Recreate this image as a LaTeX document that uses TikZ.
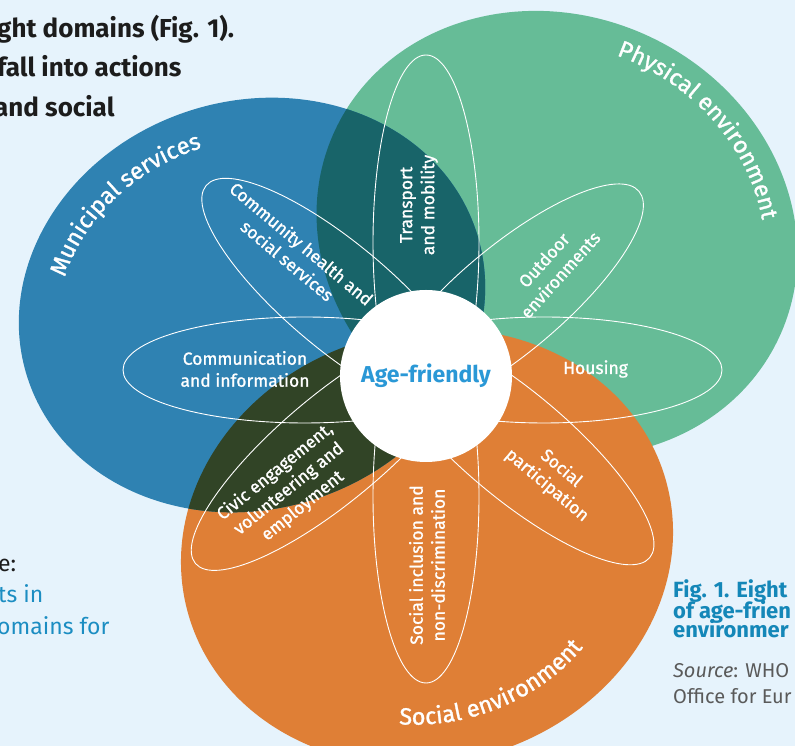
\documentclass[tikz,border=0pt]{standalone}
\usepackage{fontspec}
\setmainfont{Fira Sans}
\newfontfamily\labelfont{Fira Sans}[FakeBold=1.2]
\usetikzlibrary{decorations.text}
\definecolor{pagebg}{HTML}{E6F3FC}
\definecolor{muniblue}{HTML}{2F82B2}
\definecolor{physgreen}{HTML}{66BC97}
\definecolor{socorange}{HTML}{DF7F36}
\definecolor{darkteal}{HTML}{186469}
\definecolor{darkolive}{HTML}{314426}
\definecolor{agecyan}{HTML}{2A98D6}
\definecolor{capblue}{HTML}{1487B8}
\definecolor{linkblue}{HTML}{1B8DC2}
\definecolor{srcgray}{HTML}{5A5A5A}
\definecolor{inktext}{HTML}{1C1C1C}
\begin{document}
\begin{tikzpicture}[x=1pt,y=1pt,line join=round,
  muni/.style={rotate around={18:(252,441)}},
  phys/.style={rotate around={-25:(557,512)}},
  soc/.style={rotate around={15:(427,199)}},
  petal/.style={draw=white,line width=0.9pt},
  domaintext/.style={text=white,align=center,inner sep=0pt,font=\labelfont\fontsize{17.5}{22}\selectfont},
  intro/.style={anchor=base west,inner sep=0pt,text=inktext,font=\fontsize{26}{26}\selectfont\bfseries},
  aside/.style={anchor=base west,inner sep=0pt,font=\fontsize{23}{23}\selectfont},
  captext/.style={anchor=base west,inner sep=0pt,text=capblue,font=\fontsize{22}{22}\selectfont\bfseries},
  srctext/.style={anchor=base west,inner sep=0pt,text=srcgray,font=\fontsize{20}{20}\selectfont}]
  \useasboundingbox (0,0) rectangle (795,746);
  \fill[pagebg] (0,0) rectangle (795,746);

  \node[intro] (introa) at (-3,708) {ght domains (Fig. 1).};
  \node[intro] (introb) at (-3,669) {fall into actions};
  \node[intro] (introc) at (-6,629) {and social};
  \node[aside,text=inktext] (asidea) at (-2,174) {e:};
  \node[aside,text=linkblue] (asideb) at (-2,143) {ts in};
  \node[aside,text=linkblue] (asidec) at (-3,111) {omains for};
  \node[captext] (capa) at (673,148) {Fig. 1. Eight};
  \node[captext] (capb) at (673,127) {of age-frien};
  \node[captext] (capc) at (673,108) {environmer};
  \node[srctext] (srca) at (673,68) {\textit{Source}: WHO};
  \node[srctext] (srcb) at (673,42) {Office for Eur};

  % environments
  \fill[physgreen,phys] (557,512) ellipse [x radius=245,y radius=218];
  \fill[socorange,soc] (427,199) ellipse [x radius=248,y radius=216];
  \fill[muniblue,muni] (252,441) ellipse [x radius=236,y radius=204];
  \begin{scope}
    \clip[muni] (252,441) ellipse [x radius=236,y radius=204];
    \fill[darkteal,phys] (557,512) ellipse [x radius=245,y radius=218];
    \fill[darkolive,soc] (427,199) ellipse [x radius=248,y radius=216];
  \end{scope}

  % eight domains
  \foreach \ang/\reach in {90/315,40/278,0/296,-40/292,-90/313,-140/301,180/303,140/287}{
    \pgfmathsetmacro\semi{(\reach+60)/2}
    \draw[petal,rotate around={\ang:(426,376)}] (426+\reach-\semi,376) ellipse [x radius=\semi,y radius=53];
  }

  \node[circle,fill=white,minimum size=172pt,inner sep=0pt,text=agecyan,
    font=\fontsize{23}{23}\selectfont\bfseries] (hub) at (426,370) {Age-friendly};

  \node[domaintext,rotate=-40] (community) at (294.5,494) {Community health and\\social services};
  \node[domaintext,rotate=90] (transport) at (419,541) {Transport\\and mobility};
  \node[domaintext,rotate=48] (outdoor) at (552,478.5) {Outdoor\\environments};
  \node[domaintext] (housing) at (595.5,377) {Housing};
  \node[domaintext,rotate=-40] (participation) at (554,269) {Social\\participation};
  \node[domaintext,rotate=90] (inclusion) at (427,181) {Social inclusion and\\non-discrimination};
  \node[domaintext,rotate=39] (civic) at (289,257) {Civic engagement,\\volunteering and\\employment};
  \node[domaintext] (communication) at (245,377) {Communication\\and information};

  \path[muni,decorate,decoration={text along path,text align=center,
    text={|\labelfont\fontsize{23.5}{23.5}\selectfont\color{white}|Municipal services}}]
    (252,441) ++(171:197 and 165) arc [start angle=171,end angle=71,x radius=197,y radius=165];
  \path[phys,decorate,decoration={text along path,text align=center,
    text={|\labelfont\fontsize{23.5}{23.5}\selectfont\color{white}|Physical environment}}]
    (557,512) ++(113:212 and 188) arc [start angle=113,end angle=13,x radius=212,y radius=188];
  \path[soc,decorate,decoration={text along path,text align=center,
    text={|\labelfont\fontsize{23.5}{23.5}\selectfont\color{white}|Social environment}}]
    (427,199) ++(-131:200 and 176) arc [start angle=-131,end angle=-31,x radius=200,y radius=176];
\end{tikzpicture}
\end{document}
